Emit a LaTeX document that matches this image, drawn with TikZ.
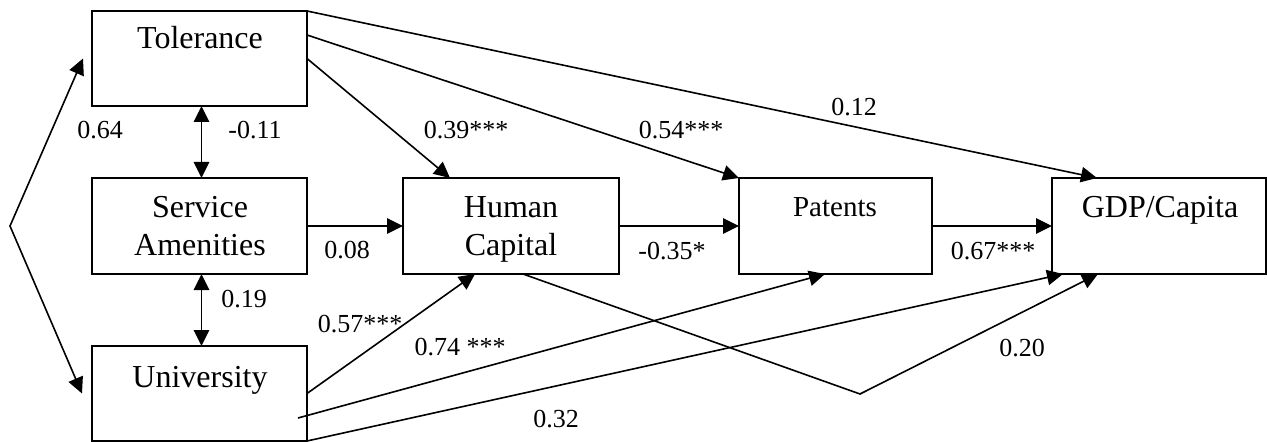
\documentclass[tikz,border=0pt]{standalone}
\usepackage{fontspec}
\setmainfont{Liberation Serif}
\usetikzlibrary{arrows.meta,calc,fit}
\begin{document}
\begin{tikzpicture}[x=0.75pt,y=-0.75pt,
  box/.style={draw,line width=1.2pt,inner sep=0pt,outer sep=0pt},
  con/.style={line width=1.2pt,-{Triangle[length=12pt,width=11.5pt]}},
  dcon/.style={line width=1.2pt,{Triangle[length=12pt,width=11.5pt]}-{Triangle[length=12pt,width=11.5pt]}},
  big/.style={font=\fontsize{24}{28}\selectfont,anchor=base,inner sep=0pt},
  mid/.style={font=\fontsize{21.75}{26}\selectfont,anchor=base,inner sep=0pt},
  lab/.style={font=\fontsize{19.5}{23}\selectfont,anchor=base,inner sep=0pt}]
\useasboundingbox (0,0) rectangle (1267,442);
% boxes
\node[box, fit={(92,11) (307,106)}] (tol) {};
\node[box, fit={(92,178) (307,274)}] (serv) {};
\node[box, fit={(92,346) (307,441)}] (univ) {};
\node[box, fit={(403,178) (619,274)}] (hum) {};
\node[box, fit={(739,178) (932,274)}] (pat) {};
\node[box, fit={(1052,178) (1266,274)}] (gdp) {};
% box texts
\node[big] (toltxt) at (200,49) {Tolerance};
\node[big] (serv1) at (200,217) {Service};
\node[big] (serv2) at (200,255) {Amenities};
\node[big] (univtxt) at (200,387) {University};
\node[big] (hum1) at (511,217) {Human};
\node[big] (hum2) at (511,255) {Capital};
\node[mid] (pattxt) at (835,216) {Patents};
\node[big] (gdptxt) at (1160,218) {GDP/Capita};
% connectors
\coordinate (lv) at (10,226);
\draw[dcon] ($(tol.west)+(-9,0)$) -- (lv) -- ($(univ.west)+(-10,0)$);
\draw[dcon] ($(tol.south)+(2,0)$) -- ($(serv.north)+(2,0)$);
\draw[dcon] ($(serv.south)+(2,0)$) -- ($(univ.north)+(2,0)$);
\draw[con] (serv.east) -- (hum.west);
\draw[con] (hum.east) -- (pat.west);
\draw[con] (pat.east) -- (gdp.west);
\draw[con] (tol.east) -- ($(hum.north west)+(47,0)$);
\draw[con] ($(tol.north east)+(0,24)$) -- (pat.north west);
\draw[con] (tol.north east) -- ($(gdp.north west)+(45,0)$);
\draw[con] (univ.east) -- ($(hum.south west)+(72,0)$);
\draw[con] ($(univ.south east)+(-9,-23)$) -- ($(pat.south west)+(86,0)$);
\draw[con] (univ.south east) -- ($(gdp.south west)+(11,0)$);
\coordinate (kink) at (860,394);
\draw[con] ($(hum.south west)+(120,0)$) -- (kink) -- ($(gdp.south west)+(46,0)$);
% labels
\node[lab] (l064) at (100,139) {0.64};
\node[lab] (l011) at (255,139) {-0.11};
\node[lab] (l008) at (347,258) {0.08};
\node[lab] (l019) at (244,307) {0.19};
\node[lab] (l057) at (360,332) {0.57***};
\node[lab] (l039) at (466,139) {0.39***};
\node[lab] (l054) at (681,139) {0.54***};
\node[lab] (l012) at (854,116) {0.12};
\node[lab] (l035) at (672,259) {-0.35*};
\node[lab] (l074) at (460,355) {0.74 ***};
\node[lab] (l032) at (556,427) {0.32};
\node[lab] (l067) at (993,259) {0.67***};
\node[lab] (l020) at (1022,356) {0.20};
\end{tikzpicture}
\end{document}
